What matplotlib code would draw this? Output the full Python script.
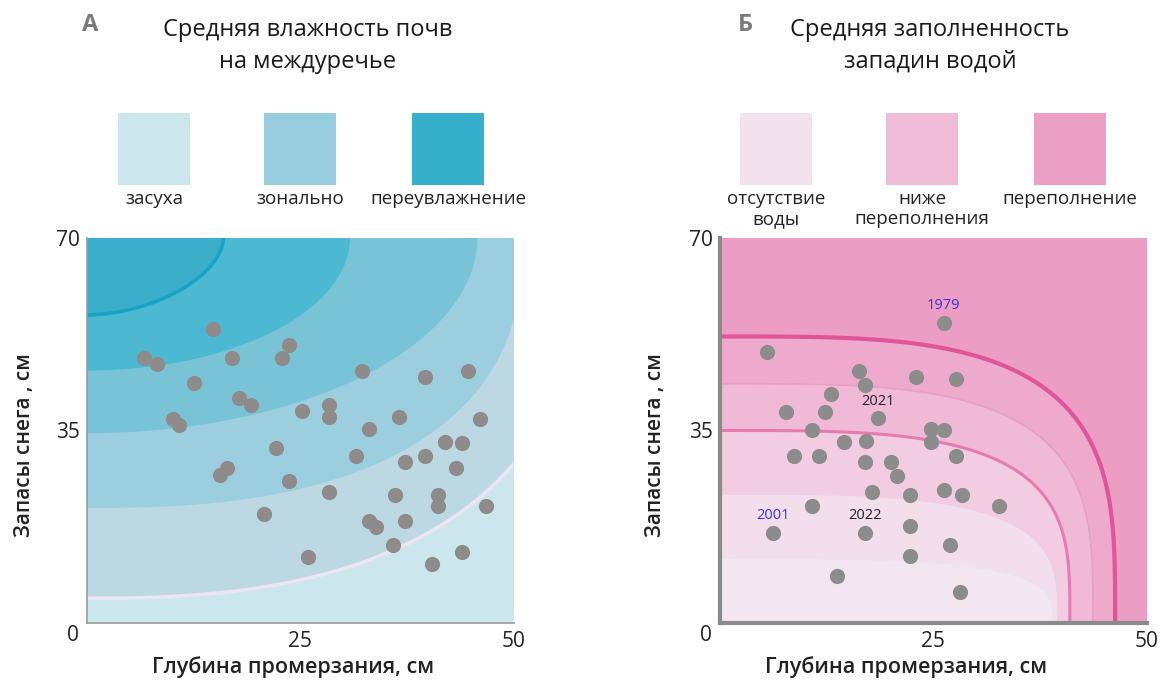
import numpy as np
import matplotlib
matplotlib.use('Agg')
import matplotlib.pyplot as plt
from matplotlib.patches import Rectangle

plt.rcParams['font.family'] = ['Open Sans', 'DejaVu Sans']

W, H = 1166, 683

# ---- panel A: soil moisture ----
a_x = [14.8, 6.75, 8.2, 17.05, 22.9, 23.7, 12.5, 17.8, 19.2, 10.1, 10.8, 32.2, 39.6, 44.6,
       25.2, 28.4, 28.4, 36.5, 33.0, 46.0, 22.2, 31.5, 41.9, 43.9, 39.6, 37.3, 43.2, 15.6,
       16.4, 23.7, 28.4, 36.1, 41.1, 41.1, 46.7, 20.8, 33.0, 33.8, 37.3, 35.8, 25.9, 43.9, 40.4]
a_y = [53.4, 48.2, 47.0, 48.2, 48.2, 50.5, 43.6, 40.9, 39.7, 37.1, 36.0, 45.9, 44.8, 45.9,
       38.5, 39.7, 37.4, 37.4, 35.3, 37.1, 31.9, 30.4, 33.0, 32.8, 30.4, 29.2, 28.1, 26.9,
       28.1, 25.8, 23.9, 23.2, 23.2, 21.2, 21.2, 19.8, 18.6, 17.5, 18.6, 14.1, 12.0, 12.9, 10.8]

# zone boundaries around the (0, 70) corner, outermost first
a_bnd_a = [58.0, 51.0, 45.7, 30.8, 16.0]
a_bnd_b = [65.5, 49.1, 35.5, 24.1, 14.0]
a_bnd_n = [2.5, 2.5, 2.0, 2.0, 1.8]
a_bg = '#cce6ed'
a_fill = ['#bcd8e3', '#9bcfe0', '#79c3d6', '#4db8d2', '#3aaecb']

a_leg_labels = ['засуха', 'зонально', 'переувлажнение']
a_leg_colors = ['#cce6ed', '#98cddf', '#36afcb']

# ---- panel B: depressions filled with water ----
b_x = [26.2, 5.5, 16.3, 17.0, 23.0, 27.6, 13.0, 7.7, 12.3, 18.5, 10.8, 24.7, 26.2, 24.7,
       14.5, 17.1, 8.7, 11.6, 27.6, 17.0, 20.0, 20.7, 17.8, 22.3, 26.2, 28.4, 32.7, 10.8,
       6.2, 17.0, 22.3, 26.9, 22.3, 13.7, 28.1]
b_y = [54.6, 49.3, 45.9, 43.2, 44.8, 44.3, 41.6, 38.4, 38.4, 37.2, 35.1, 35.3, 35.1, 32.9,
       32.9, 33.1, 30.3, 30.3, 30.3, 29.3, 29.3, 26.8, 23.9, 23.2, 24.2, 23.2, 21.3, 21.3,
       16.4, 16.4, 17.6, 14.1, 12.1, 8.5, 5.6]
b_years = {0: ('1979', '#3a30e0'), 9: ('2021', '#222222'), 28: ('2001', '#3a30e0'), 29: ('2022', '#222222')}

# boundaries around the origin, outermost first
b_bnd_a = [46.3, 43.7, 41.0, 39.5, 39.0]
b_bnd_b = [52.1, 43.5, 35.0, 23.3, 11.8]
b_bg = '#ec9dc3'
b_fill = ['#eeaacd', '#f0bad7', '#f2cde1', '#f3dfeb', '#f2e6f0']
b_lines = {0: ('#e0559a', 3.0), 1: ('#e6a0c5', 1.2), 2: ('#e67bb0', 2.2), 4: ('#ebe2ee', 1.5)}

b_leg_labels = ['отсутствие\nводы', 'ниже\nпереполнения', 'переполнение']
b_leg_colors = ['#f3e1ed', '#efbcd8', '#eb9fc5']


def fx(p):
    return p / W


def fy(p):
    return 1 - p / H


def superellipse(a, b, n, m=400):
    t = np.linspace(0, np.pi / 2, m)
    return a * np.cos(t) ** (2 / n), b * np.sin(t) ** (2 / n)


fig = plt.figure(figsize=(W / 100, H / 100), dpi=100)
axA = fig.add_axes([fx(86.7), fy(623), fx(514 - 86.7), (623 - 238) / H])
axB = fig.add_axes([fx(720), fy(623), fx(1146.7 - 720), (623 - 238) / H])

# panel A background zones
axA.set_facecolor(a_bg)
for a, b, n, c in zip(a_bnd_a, a_bnd_b, a_bnd_n, a_fill):
    x, d = superellipse(a, b, n)
    axA.fill(np.r_[x, 0], np.r_[70 - d, 70], color=c, lw=0, zorder=1)
x, d = superellipse(a_bnd_a[0], a_bnd_b[0], a_bnd_n[0])
axA.plot(x, 70 - d, color='#ece6f4', lw=2.5, zorder=2)
x, d = superellipse(a_bnd_a[-1], a_bnd_b[-1], a_bnd_n[-1])
axA.plot(x, 70 - d, color='#15a3c6', lw=2.5, zorder=2)
axA.scatter(a_x, a_y, s=120, color='#8f8b8b', lw=0, zorder=3)

# panel B background zones
axB.set_facecolor(b_bg)
for i, (a, b, c) in enumerate(zip(b_bnd_a, b_bnd_b, b_fill)):
    x, y = superellipse(a, b, 3.5)
    axB.fill(np.r_[x, 0], np.r_[y, 0], color=c, lw=0, zorder=1)
for i, (c, lw) in b_lines.items():
    x, y = superellipse(b_bnd_a[i], b_bnd_b[i], 3.5)
    axB.plot(x, y, color=c, lw=lw, zorder=2)
axB.scatter(b_x, b_y, s=120, color='#8c8c8c', lw=0, zorder=3)
for i, (txt, c) in b_years.items():
    axB.annotate(txt, (b_x[i], b_y[i]), xytext=(0, 12.5), textcoords='offset points',
                 ha='center', va='center', fontsize=10.5, color=c, zorder=4)

for ax, lw, sc in [(axA, 1.2, '#9a9a9a'), (axB, 3, '#8a8a8a')]:
    ax.set_xlim(0, 50)
    ax.set_ylim(0, 70)
    ax.set_xticks([25, 50])
    ax.set_yticks([35, 70])
    ax.tick_params(length=0, labelsize=15, labelcolor='#222222')
    ax.tick_params(axis='x', pad=6)
    ax.tick_params(axis='y', pad=5)
    for s in ['top', 'right']:
        ax.spines[s].set_visible(False)
    for s in ['left', 'bottom']:
        ax.spines[s].set_color(sc)
        ax.spines[s].set_linewidth(lw)
        ax.spines[s].set_zorder(5)
    ax.annotate('0', (0, 0), xytext=(-10, -9), textcoords='offset points',
                ha='center', va='center', fontsize=15, color='#222222', annotation_clip=False)

# titles
fig.text(fx(90), fy(25), 'А', fontsize=17, fontweight='bold', color='#7a7a7a', ha='center', va='center')
fig.text(fx(308), fy(46), 'Средняя влажность почв\nна междуречье', fontsize=17,
         ha='center', va='center', linespacing=1.4, color='#1a1a1a')
fig.text(fx(745), fy(25), 'Б', fontsize=17, fontweight='bold', color='#7a7a7a', ha='center', va='center')
fig.text(fx(930), fy(46), 'Средняя заполненность\nзападин водой', fontsize=17,
         ha='center', va='center', linespacing=1.4, color='#1a1a1a')

# legend squares
for cx_list, labels, colors in [([154, 300, 448], a_leg_labels, a_leg_colors),
                                ([776, 922, 1070], b_leg_labels, b_leg_colors)]:
    for cx, lab, col in zip(cx_list, labels, colors):
        fig.add_artist(Rectangle((fx(cx - 36), fy(185)), 72 / W, 72 / H,
                                 transform=fig.transFigure, color=col, lw=0))
        fig.text(fx(cx), fy(190), lab, fontsize=13.5, ha='center', va='top',
                 linespacing=1.15, color='#222222')

# axis labels
for cx, cy in [(293, 667), (906, 667)]:
    fig.text(fx(cx), fy(cy), 'Глубина промерзания, см', fontsize=15.5, fontweight='semibold',
             ha='center', va='center', color='#222222')
for cx in [25, 655]:
    fig.text(fx(cx), fy(445), 'Запасы снега , см', fontsize=15, fontweight='semibold',
             rotation=90, ha='center', va='center', color='#222222')

fig.savefig('out.png', dpi=100)
